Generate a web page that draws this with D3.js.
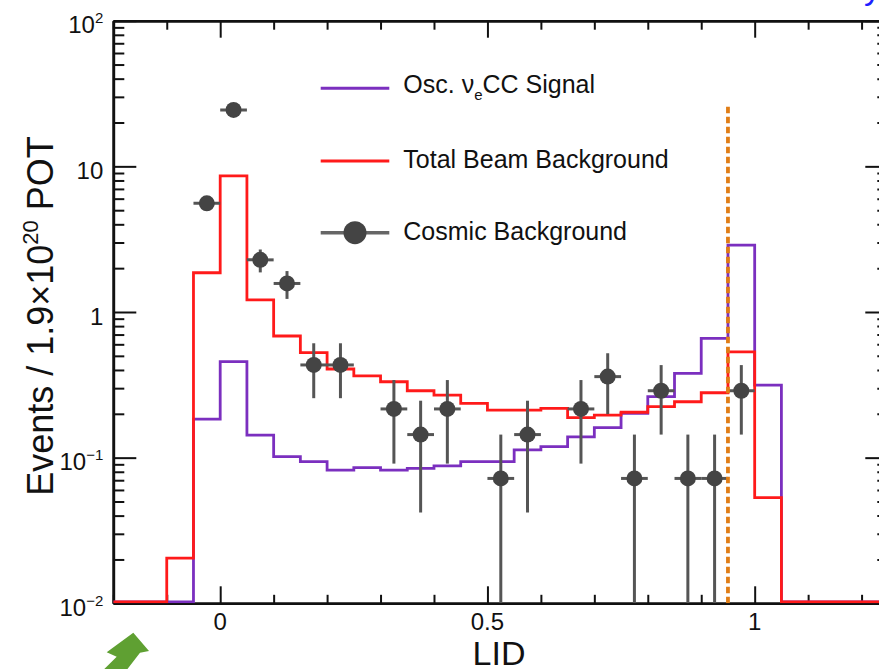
<!DOCTYPE html>
<html>
<head>
<meta charset="utf-8">
<script src="https://cdn.jsdelivr.net/npm/d3@7"></script>
<style>
  html, body { margin: 0; padding: 0; background: #fff; }
  svg { display: block; font-family: "Liberation Sans", Arial, Helvetica, sans-serif; }
</style>
</head>
<body>
<svg id="chart" width="879" height="669"></svg>
<script>
// ---- LID histograms (bin edges 0.05 wide, events per 1.9e20 POT) ----
const binEdges = [-0.1, -0.05, 0, 0.05, 0.1, 0.15, 0.2, 0.25, 0.3, 0.35, 0.4, 0.45,
                  0.5, 0.55, 0.6, 0.65, 0.7, 0.75, 0.8, 0.85, 0.9, 0.95, 1.0, 1.05];
const signalCounts = [0, 0.184, 0.456, 0.143, 0.1015, 0.0938, 0.0822, 0.0853, 0.0822,
                      0.0845, 0.0877, 0.0938, 0.0938, 0.113, 0.119, 0.139, 0.161,
                      0.2015, 0.262, 0.379, 0.659, 2.88, 0.315];
const beamBkgCounts = [0.0204, 1.86, 8.59, 1.21, 0.684, 0.526, 0.406, 0.364, 0.332,
                       0.288, 0.269, 0.236, 0.212, 0.212, 0.218, 0.188, 0.196, 0.205,
                       0.224, 0.242, 0.279, 0.533, 0.0531];

// ---- cosmic background points ----
const cosmicLID    = [-0.025, 0.025, 0.075, 0.125, 0.175, 0.225, 0.325, 0.375, 0.425,
                      0.525, 0.575, 0.675, 0.725, 0.775, 0.825, 0.875, 0.925, 0.975];
const cosmicCounts = [5.57, 24.4, 2.28, 1.57, 0.433, 0.433, 0.216, 0.144, 0.216,
                      0.072, 0.144, 0.216, 0.36, 0.072, 0.288, 0.072, 0.072, 0.288];
const cosmicErrors = [0.63, 1.33, 0.41, 0.34, 0.177, 0.177, 0.125, 0.102, 0.125,
                      0.072, 0.102, 0.125, 0.161, 0.072, 0.144, 0.072, 0.072, 0.144];
const cosmicHalfWidth = 0.025;

// ---- selection cut ----
const cutLID = 0.95;
const cutLineTop = 26;

// ---- axes ----
const xDomain = [-0.2, 1.25];
const yDomain = [0.01, 100];
const xMajorTicks = [0, 0.5, 1];
const xTickLabels = ["0", "0.5", "1"];
const yMajorTicks = [0.01, 0.1, 1, 10, 100];
const yTickBase = ["10", "10", "1", "10", "10"];
const yTickExp  = ["\u22122", "\u22121", "", "", "2"];

const legendLabels = ["Osc. \u03BD", "Total Beam Background", "Cosmic Background"];

(function draw() {
  // ---- layout ----
  const pLeft = 113.3, pRight = 888.3, pTop = 20.7, pBottom = 603.3;
  const svg = d3.select("#chart");

  const x = d3.scaleLinear().domain(xDomain).range([pLeft, pRight]);
  const y = d3.scaleLog().domain(yDomain).range([pBottom, pTop]);

  const ink = "#111";
  const colSignal = "#7b2fbf";
  const colBkg = "#ff1a1a";
  const colCosmic = "#444";
  const colCosmicBar = "#555";

  // ---- frame and ticks (ticks point inward) ----
  const xMinor = x.ticks(15).filter(v => !xMajorTicks.some(m => Math.abs(m - v) < 1e-9));
  const yMinor = y.ticks().filter(v => !yMajorTicks.some(m => Math.abs(Math.log10(m) - Math.log10(v)) < 1e-9));

  function styleAxis(g) {
    g.selectAll("path.domain").attr("stroke", ink).attr("stroke-width", 2.6);
    g.selectAll(".tick line").attr("stroke", ink).attr("stroke-width", 2);
    g.selectAll(".tick text").remove();
  }

  svg.append("g").attr("transform", `translate(0,${pBottom})`)
    .call(d3.axisBottom(x).tickValues(xMajorTicks).tickSizeInner(-17).tickSizeOuter(0).tickFormat(""))
    .call(styleAxis);
  svg.append("g").attr("transform", `translate(0,${pBottom})`)
    .call(d3.axisBottom(x).tickValues(xMinor).tickSizeInner(-8.5).tickSizeOuter(0).tickFormat(""))
    .call(styleAxis);
  svg.append("g").attr("transform", `translate(0,${pTop})`)
    .call(d3.axisTop(x).tickValues(xMajorTicks).tickSizeInner(-17).tickSizeOuter(0).tickFormat(""))
    .call(styleAxis);
  svg.append("g").attr("transform", `translate(0,${pTop})`)
    .call(d3.axisTop(x).tickValues(xMinor).tickSizeInner(-9).tickSizeOuter(0).tickFormat(""))
    .call(styleAxis);
  svg.append("g").attr("transform", `translate(${pLeft},0)`)
    .call(d3.axisLeft(y).tickValues(yMajorTicks).tickSizeInner(-23).tickSizeOuter(0).tickFormat(""))
    .call(styleAxis);
  svg.append("g").attr("transform", `translate(${pLeft},0)`)
    .call(d3.axisLeft(y).tickValues(yMinor).tickSizeInner(-11).tickSizeOuter(0).tickFormat(""))
    .call(styleAxis);
  svg.append("g").attr("transform", `translate(${pRight},0)`)
    .call(d3.axisRight(y).tickValues(yMajorTicks).tickSizeInner(-23).tickSizeOuter(0).tickFormat(""))
    .call(styleAxis);
  svg.append("g").attr("transform", `translate(${pRight},0)`)
    .call(d3.axisRight(y).tickValues(yMinor).tickSizeInner(-11).tickSizeOuter(0).tickFormat(""))
    .call(styleAxis);

  // ---- tick labels ----
  svg.append("g").selectAll("text").data(xMajorTicks).join("text")
    .attr("x", d => x(d)).attr("y", pBottom + 27)
    .attr("text-anchor", "middle").attr("font-size", 24).attr("fill", ink)
    .text((d, i) => xTickLabels[i]);

  const yLab = svg.append("g").selectAll("text").data(yMajorTicks).join("text")
    .attr("x", pLeft - 10).attr("y", d => y(d) + 12.6)
    .attr("text-anchor", "end").attr("font-size", 24).attr("fill", ink);
  yLab.each(function (d, i) {
    const t = d3.select(this);
    t.append("tspan").text(yTickBase[i]);
    if (yTickExp[i]) t.append("tspan").attr("dy", -10).attr("font-size", 15).text(yTickExp[i]);
  });

  // ---- axis titles ----
  svg.append("text")
    .attr("x", 499).attr("y", 665)
    .attr("text-anchor", "middle").attr("font-size", 34).attr("fill", ink)
    .text("LID");

  const yTitle = svg.append("text")
    .attr("transform", "translate(53.3,316) rotate(-90)")
    .attr("text-anchor", "middle").attr("font-size", 36).attr("fill", ink);
  yTitle.append("tspan").text("Events / 1.9\u00D710");
  yTitle.append("tspan").attr("dy", -15).attr("font-size", 22).text("20");
  yTitle.append("tspan").attr("dy", 15).text(" POT");

  // ---- histograms ----
  const floorY = y(yDomain[0]) - 1.5;
  const yClamp = v => (v > yDomain[0] ? y(v) : floorY);

  function histPoints(values) {
    const pts = [[xDomain[0], 0]];
    values.forEach((v, i) => pts.push([binEdges[i], v]));
    pts.push([binEdges[binEdges.length - 1], 0]);
    pts.push([xDomain[1], 0]);
    return pts;
  }
  const stepLine = d3.line()
    .x(d => x(d[0]))
    .y(d => yClamp(d[1]))
    .curve(d3.curveStepAfter);

  svg.append("defs").append("clipPath").attr("id", "plotClip")
    .append("rect").attr("x", pLeft).attr("y", pTop)
    .attr("width", pRight - pLeft).attr("height", pBottom - pTop);

  const plot = svg.append("g").attr("clip-path", "url(#plotClip)");

  plot.append("path").datum(histPoints(signalCounts))
    .attr("d", stepLine).attr("fill", "none")
    .attr("stroke", colSignal).attr("stroke-width", 2.8);
  plot.append("path").datum(histPoints(beamBkgCounts))
    .attr("d", stepLine).attr("fill", "none")
    .attr("stroke", colBkg).attr("stroke-width", 2.8);

  // ---- cosmic background points with error bars ----
  const cosmic = cosmicLID.map((c, i) => ({ c, v: cosmicCounts[i], e: cosmicErrors[i] }));
  const pg = plot.append("g");
  pg.selectAll("line.h").data(cosmic).join("line").attr("class", "h")
    .attr("x1", d => x(d.c - cosmicHalfWidth)).attr("x2", d => x(d.c + cosmicHalfWidth))
    .attr("y1", d => y(d.v)).attr("y2", d => y(d.v))
    .attr("stroke", colCosmicBar).attr("stroke-width", 3);
  pg.selectAll("line.v").data(cosmic).join("line").attr("class", "v")
    .attr("x1", d => x(d.c)).attr("x2", d => x(d.c))
    .attr("y1", d => y(d.v + d.e))
    .attr("y2", d => (d.v - d.e > yDomain[0] ? y(d.v - d.e) : y(yDomain[0])))
    .attr("stroke", colCosmicBar).attr("stroke-width", 3);
  pg.selectAll("circle").data(cosmic).join("circle")
    .attr("cx", d => x(d.c)).attr("cy", d => y(d.v)).attr("r", 8)
    .attr("fill", colCosmic);

  // ---- cut line ----
  plot.append("line")
    .attr("x1", x(cutLID)).attr("x2", x(cutLID))
    .attr("y1", y(yDomain[0])).attr("y2", y(cutLineTop))
    .attr("stroke", "#e07d16").attr("stroke-width", 3.8)
    .attr("stroke-dasharray", "6.5,3.5");

  // ---- legend ----
  const lg = svg.append("g");
  const legX1 = 320.7, legX2 = 389.3, legText = 403.3;
  const legRows = [88.3, 161, 232.7];
  lg.append("line").attr("x1", legX1).attr("x2", legX2).attr("y1", legRows[0]).attr("y2", legRows[0])
    .attr("stroke", colSignal).attr("stroke-width", 3);
  lg.append("line").attr("x1", legX1).attr("x2", legX2).attr("y1", legRows[1]).attr("y2", legRows[1])
    .attr("stroke", colBkg).attr("stroke-width", 3);
  lg.append("line").attr("x1", legX1).attr("x2", legX2).attr("y1", legRows[2]).attr("y2", legRows[2])
    .attr("stroke", "#666").attr("stroke-width", 3.5);
  lg.append("circle").attr("cx", (legX1 + legX2) / 2).attr("cy", legRows[2]).attr("r", 11.5)
    .attr("fill", colCosmic);

  const t0 = lg.append("text").attr("x", legText).attr("y", legRows[0] + 5)
    .attr("font-size", 25).attr("fill", ink);
  t0.append("tspan").text(legendLabels[0]);
  t0.append("tspan").attr("dy", 7).attr("font-size", 15).text("e");
  t0.append("tspan").attr("dy", -7).text("CC Signal");
  lg.append("text").attr("x", legText).attr("y", legRows[1] + 7.3)
    .attr("font-size", 25).attr("fill", ink).text(legendLabels[1]);
  lg.append("text").attr("x", legText).attr("y", legRows[2] + 7.3)
    .attr("font-size", 25).attr("fill", ink).text(legendLabels[2]);

  // ---- header text (sits above the top edge; only its descender shows) ----
  svg.append("text").attr("x", 881).attr("y", -1.5)
    .attr("text-anchor", "end").attr("font-size", 34).attr("fill", "#1f1fff")
    .text("NOvA Preliminary");

  // ---- green pointer arrow at lower left ----
  svg.append("polygon")
    .attr("points", "106.7,652.3 133.3,632.7 149,651 140,652.7 126.7,670 103.3,670 116.7,656.7")
    .attr("fill", "#5fa032");
})();
</script>
</body>
</html>
